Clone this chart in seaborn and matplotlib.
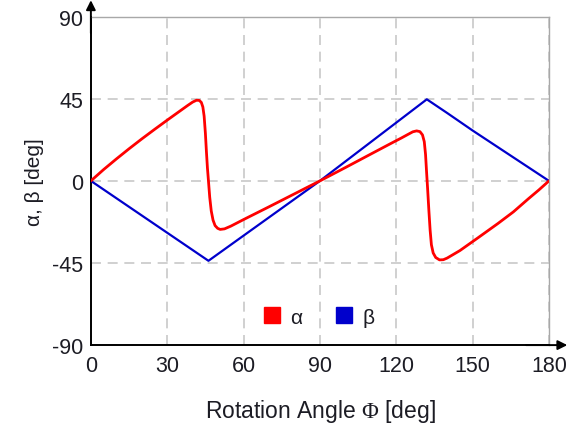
import numpy as np
import pandas as pd
import matplotlib
matplotlib.use("Agg")
import matplotlib.pyplot as plt
from matplotlib.lines import Line2D
import seaborn as sns

# rotation angle samples and the two joint angles
phi_alpha = [0, 5, 10, 15, 20, 25, 30, 35, 38, 40, 41.5, 42.6, 43.4, 44.0,
             44.5, 45.0, 45.4, 45.8, 46.2, 46.7, 47.3, 48.0, 48.8, 49.8, 50.8,
             52.5, 55, 60, 70, 80, 90, 100, 110, 118, 122, 124.5, 126.5, 128,
             129.3, 130.3, 131.0, 131.5, 131.9, 132.3, 132.8, 133.3, 133.8,
             134.5, 135.5, 137, 138.5, 140, 145, 152, 160, 166, 172, 176, 180]
alpha = [0, 6.2, 12.0, 17.6, 23.0, 28.2, 33.3, 38.3, 41.3, 43.2, 44.2, 44.1,
         43.0, 40.5, 35.5, 26.0, 16.0, 7.0, 0.0, -9.0, -16.5, -21.5, -24.5,
         -26.0, -26.6, -26.3, -24.8, -21.2, -14.2, -7.1, 0.0, 7.3, 14.7, 20.6,
         23.5, 25.4, 26.9, 27.4, 27.0, 25.2, 21.5, 14.5, 5.0, -4.0, -16.0,
         -27.0, -35.0, -39.5, -42.0, -43.3, -43.2, -42.3, -38.2, -31.3, -23.3,
         -17.0, -9.7, -5.0, 0]

phi_beta = [0, 46.2, 90, 132, 140, 150, 160, 170, 180]
beta = [0, -43.8, 0, 44.7, 37.2, 27.6, 18.4, 9.2, 0]

x_ticks = [0, 30, 60, 90, 120, 150, 180]
y_ticks = [-90, -45, 0, 45, 90]

red = "#ff0000"
blue = "#0000cc"
text_col = "#1c1c24"

sns.set_style("white")
plt.rcParams["font.family"] = ["Liberation Sans", "DejaVu Sans"]
plt.rcParams["mathtext.fontset"] = "custom"
plt.rcParams["mathtext.rm"] = "Liberation Serif"
plt.rcParams["axes.unicode_minus"] = False

df_a = pd.DataFrame({"phi": phi_alpha, "angle": alpha})
df_b = pd.DataFrame({"phi": phi_beta, "angle": beta})

fig = plt.figure(figsize=(5.68, 4.31), dpi=100)
ax = fig.add_axes([0.16, 0.197, 0.8065, 0.762])

sns.lineplot(data=df_b, x="phi", y="angle", color=blue, linewidth=1.6,
             estimator=None, sort=False, ax=ax, zorder=3)
sns.lineplot(data=df_a, x="phi", y="angle", color=red, linewidth=2.0,
             estimator=None, sort=False, ax=ax, zorder=4)

ax.set_xlim(0, 180)
ax.set_ylim(-90, 90)
ax.set_xticks(x_ticks)
ax.set_yticks(y_ticks)
ax.grid(True, color="#c8c8c8", linestyle=(0, (6, 4)), linewidth=1.2)
ax.set_axisbelow(True)

for side in ["top", "right"]:
    ax.spines[side].set_color("#a8a8a8")
    ax.spines[side].set_linewidth(1.0)
for side in ["left", "bottom"]:
    ax.spines[side].set_color("black")
    ax.spines[side].set_linewidth(1.4)

ax.tick_params(axis="both", direction="out", length=5, width=1.2,
               color="black", labelsize=15.5, labelcolor=text_col, pad=2)
ax.tick_params(axis="y", pad=0.5)

# arrow heads on the two main axes
ax.annotate("", xy=(1.04, 0), xytext=(0.95, 0), xycoords="axes fraction",
            arrowprops=dict(arrowstyle="-|>", color="black", lw=1.4,
                            mutation_scale=14, shrinkA=0, shrinkB=0),
            annotation_clip=False)
ax.annotate("", xy=(0, 1.05), xytext=(0, 0.95), xycoords="axes fraction",
            arrowprops=dict(arrowstyle="-|>", color="black", lw=1.4,
                            mutation_scale=14, shrinkA=0, shrinkB=0),
            annotation_clip=False)

ax.set_xlabel(r"Rotation Angle $\mathrm{\Phi}$ [deg]", fontsize=16.5,
              color=text_col, labelpad=15)
ax.set_ylabel("α, β [deg]", fontsize=15, color=text_col, labelpad=6)

handles = [Line2D([], [], marker="s", linestyle="none", color=red, markersize=12),
           Line2D([], [], marker="s", linestyle="none", color=blue, markersize=12)]
ax.legend(handles, ["α", "β"], loc="center", bbox_to_anchor=(0.496, 0.085),
          ncol=2, frameon=False, fontsize=15, handlelength=1.0,
          handletextpad=0.4, columnspacing=1.5, labelcolor=text_col)

fig.savefig("out.png", dpi=100)
